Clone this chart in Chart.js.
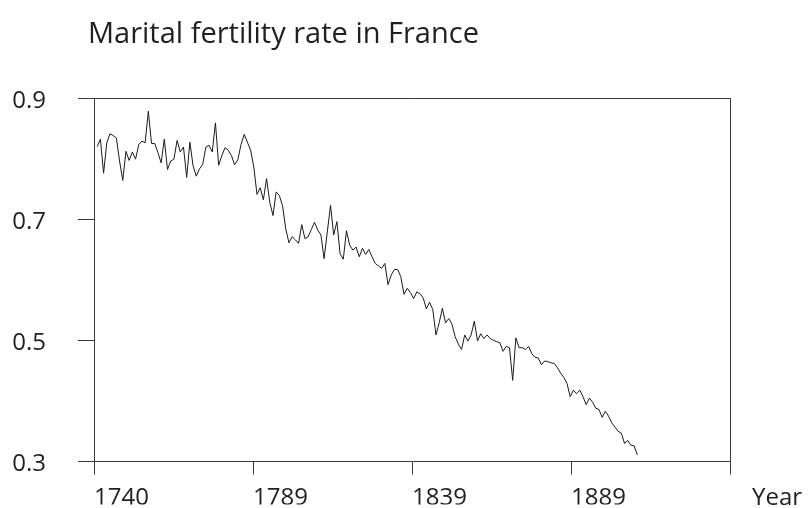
<!DOCTYPE html>
<html>
<head>
<meta charset="utf-8">
<title>Marital fertility rate in France</title>
<script src="https://cdn.jsdelivr.net/npm/chart.js@4/dist/chart.umd.min.js"></script>
<style>
  html, body { margin: 0; padding: 0; background: #fff; }
  #wrap { width: 808px; height: 508px; }
</style>
</head>
<body>
<div id="wrap"><canvas id="chart" width="808" height="508"></canvas></div>
<script>
// marital fertility rate, one value per year starting 1741
const firstYear = 1741;
const rate = [
  0.820, 0.832, 0.776, 0.826, 0.841, 0.838, 0.834, 0.796, 0.764, 0.812,
  0.797, 0.811, 0.799, 0.823, 0.829, 0.826, 0.878, 0.825, 0.825, 0.810,
  0.793, 0.832, 0.782, 0.796, 0.799, 0.830, 0.811, 0.819, 0.769, 0.827,
  0.788, 0.771, 0.783, 0.790, 0.819, 0.822, 0.811, 0.859, 0.789, 0.805,
  0.818, 0.814, 0.805, 0.790, 0.798, 0.823, 0.840, 0.827, 0.814, 0.786,
  0.741, 0.752, 0.732, 0.767, 0.728, 0.706, 0.745, 0.739, 0.722, 0.684,
  0.661, 0.671, 0.666, 0.660, 0.691, 0.668, 0.671, 0.683, 0.695, 0.682,
  0.674, 0.635, 0.679, 0.723, 0.674, 0.696, 0.643, 0.634, 0.681, 0.657,
  0.649, 0.654, 0.638, 0.652, 0.642, 0.650, 0.638, 0.627, 0.623, 0.619,
  0.627, 0.592, 0.608, 0.617, 0.617, 0.605, 0.576, 0.586, 0.579, 0.569,
  0.580, 0.577, 0.570, 0.552, 0.563, 0.551, 0.509, 0.529, 0.553, 0.529,
  0.536, 0.527, 0.506, 0.494, 0.485, 0.509, 0.499, 0.509, 0.532, 0.499,
  0.511, 0.503, 0.509, 0.503, 0.500, 0.498, 0.496, 0.482, 0.490, 0.488,
  0.434, 0.504, 0.488, 0.488, 0.485, 0.490, 0.478, 0.472, 0.471, 0.460,
  0.466, 0.465, 0.463, 0.462, 0.455, 0.446, 0.439, 0.429, 0.407, 0.418,
  0.412, 0.418, 0.407, 0.394, 0.405, 0.398, 0.388, 0.386, 0.373, 0.383,
  0.375, 0.364, 0.357, 0.350, 0.347, 0.330, 0.335, 0.327, 0.326, 0.311
];
const years = rate.map((v, i) => firstYear + i);

const xRange = [1740, 1939];
const xTickValues = [1740, 1789.75, 1839.5, 1889.25, 1939];
const xTickLabels = ['1740', '1789', '1839', '1889', ''];
const yTickValues = [0.3, 0.5, 0.7, 0.9];
const yTickLabels = ['0.3', '0.5', '0.7', '0.9'];

const titleText = 'Marital fertility rate in France';
const xName = 'Year';

const fontFamily = "'Open Sans', 'Noto Sans', sans-serif";
const textColor = '#231f20';
const axisColor = '#3a3a3a';
const xTickLen = 13;
const xTickPad = 9;
const labelSize = 24;

// title, top/right frame and the "Year" axis name
const framePlugin = {
  id: 'frame',
  afterDraw(chart) {
    const ctx = chart.ctx;
    const a = chart.chartArea;
    const top = Math.round(a.top) + 0.5;
    const right = Math.round(a.right) + 0.5;
    ctx.save();
    ctx.strokeStyle = axisColor;
    ctx.lineWidth = 1;
    ctx.beginPath();
    ctx.moveTo(a.left, top);
    ctx.lineTo(right, top);
    ctx.moveTo(right, a.top);
    ctx.lineTo(right, a.bottom);
    ctx.stroke();

    ctx.fillStyle = textColor;
    ctx.textAlign = 'left';
    ctx.textBaseline = 'middle';
    ctx.font = '29px ' + fontFamily;
    ctx.fillText(titleText, 88, 35);

    ctx.font = labelSize + 'px ' + fontFamily;
    ctx.fillText(xName, a.right + 22, a.bottom + xTickLen + xTickPad + labelSize * 0.6);
    ctx.restore();
  }
};

new Chart(document.getElementById('chart'), {
  type: 'line',
  data: {
    datasets: [{
      label: 'Marital fertility rate',
      data: years.map((y, i) => ({ x: y, y: rate[i] })),
      borderColor: '#1a1a1a',
      borderWidth: 1,
      pointRadius: 0,
      tension: 0,
      fill: false
    }]
  },
  options: {
    responsive: false,
    animation: false,
    devicePixelRatio: 1,
    layout: { padding: { left: 0, right: 78, top: 98, bottom: 0 } },
    plugins: {
      legend: { display: false },
      tooltip: { enabled: false },
      title: { display: false }
    },
    scales: {
      x: {
        type: 'linear',
        min: xRange[0],
        max: xRange[1],
        afterBuildTicks: s => { s.ticks = xTickValues.map(v => ({ value: v })); },
        afterFit: s => { s.height = 43; },
        grid: { drawOnChartArea: false, tickLength: xTickLen, color: axisColor },
        border: { color: axisColor },
        ticks: {
          align: 'start',
          autoSkip: false,
          maxRotation: 0,
          padding: xTickPad,
          color: textColor,
          font: { family: fontFamily, size: labelSize },
          callback: (v, i) => xTickLabels[i]
        }
      },
      y: {
        min: 0.3,
        max: 0.9,
        afterBuildTicks: s => { s.ticks = yTickValues.map(v => ({ value: v })); },
        afterFit: s => { s.width = 94; },
        grid: { drawOnChartArea: false, tickLength: 16, color: axisColor },
        border: { color: axisColor },
        ticks: {
          padding: 32,
          labelOffset: 3,
          color: textColor,
          font: { family: fontFamily, size: labelSize },
          callback: (v, i) => yTickLabels[i]
        }
      }
    }
  },
  plugins: [framePlugin]
});
</script>
</body>
</html>
